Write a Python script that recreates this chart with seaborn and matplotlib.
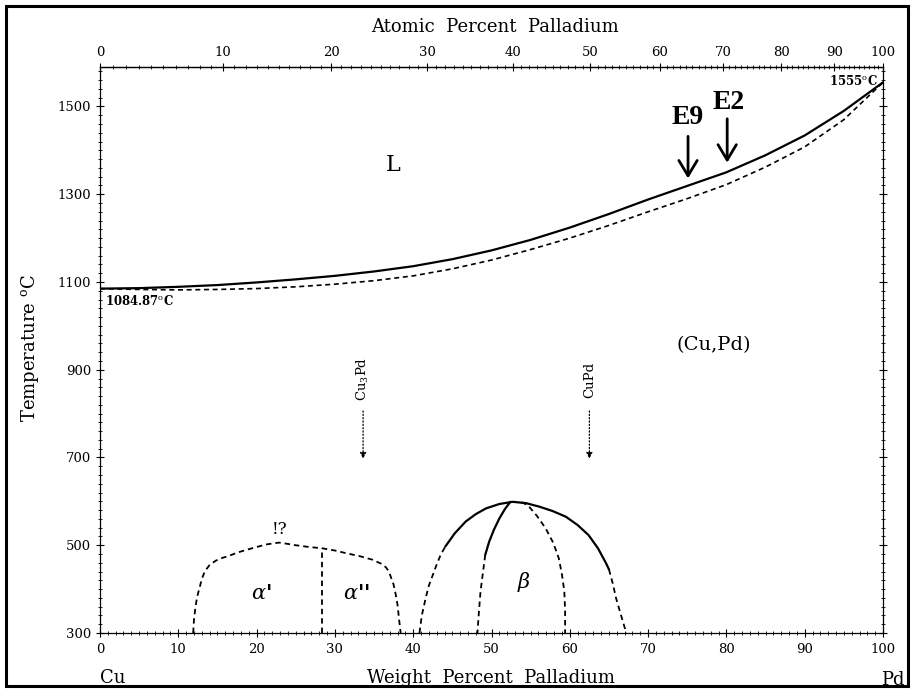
import numpy as np
import pandas as pd
import matplotlib
matplotlib.use("Agg")
import matplotlib.pyplot as plt
from matplotlib.patches import Rectangle
from matplotlib.ticker import MultipleLocator
import seaborn as sns

# ---- Cu-Pd phase diagram data (weight percent Pd, temperature in deg C) ----
liquidus_wt = [0, 5, 10, 15, 20, 25, 30, 35, 40, 45, 50, 55, 60, 65, 70, 75, 80, 85, 90, 95, 100]
liquidus_T = [1084.87, 1086, 1089, 1093, 1099, 1106, 1114, 1124, 1136, 1152, 1172, 1196,
              1224, 1255, 1288, 1319, 1350, 1389, 1434, 1490, 1555]

solidus_wt = [0, 5, 10, 15, 20, 25, 30, 35, 40, 45, 50, 55, 60, 65, 70, 75, 80, 85, 90, 95, 100]
solidus_T = [1084.87, 1083, 1082, 1083, 1085, 1089, 1095, 1103, 1114, 1130, 1150, 1174,
             1200, 1229, 1260, 1290, 1322, 1362, 1408, 1470, 1555]

alpha_dome_wt = [11.9, 12.0, 12.2, 12.4, 12.7, 13.0, 13.4, 14.0, 14.8, 15.6, 16.5, 17.5,
                 18.6, 20.0, 21.3, 22.4, 22.9, 24.0, 25.0, 26.7, 28.4, 30.0, 31.4, 33.2,
                 34.8, 35.9, 36.5, 36.9, 37.2, 37.5, 37.8, 38.0, 38.2, 38.4]
alpha_dome_T = [300, 330, 360, 382, 402, 423, 441, 455, 465, 471, 476, 483,
                489, 496, 502, 505, 506, 503, 500, 496, 493, 488, 482, 475,
                467, 458, 450, 440, 425, 410, 385, 364, 330, 300]

alpha_split_wt = [28.4, 28.4]
alpha_split_T = [300, 493]

beta_left_dash_wt = [40.8, 41.1, 41.6, 42.0, 42.5, 43.0, 43.5, 44.1]
beta_left_dash_T = [300, 340, 380, 408, 432, 456, 478, 497]
beta_outer_wt = [44.1, 45.3, 46.7, 48.0, 49.3, 51.0, 52.7, 54.4, 56.1, 57.8, 59.5, 61.0,
                 62.4, 63.6, 64.6, 65.0]
beta_outer_T = [497, 527, 554, 571, 584, 594, 599, 596, 588, 578, 565, 546,
                523, 493, 460, 445]
beta_right_dash_wt = [65.0, 65.5, 65.9, 66.5, 67.1, 67.2]
beta_right_dash_T = [445, 412, 380, 343, 307, 300]

beta_inner_solid_wt = [52.4, 51.7, 51.0, 50.3, 49.7, 49.2]
beta_inner_solid_T = [599, 582, 561, 535, 508, 478]
beta_inner_dash_wt = [49.2, 48.9, 48.6, 48.4, 48.2]
beta_inner_dash_T = [478, 437, 395, 350, 300]

beta_inner_right_wt = [53.8, 54.6, 55.8, 56.9, 57.9, 58.6, 59.0, 59.3, 59.4, 59.4]
beta_inner_right_T = [598, 592, 567, 539, 505, 470, 433, 395, 350, 300]

wt_ticks = list(range(0, 101, 10))
at_ticks = list(range(0, 101, 10))
T_ticks = list(range(300, 1501, 200))

M_CU, M_PD = 63.546, 106.42


def wt_to_at(w):
    w = np.clip(np.asarray(w, dtype=float), 0, 100)
    n_pd = w / M_PD
    n_cu = (100 - w) / M_CU
    return 100 * n_pd / (n_pd + n_cu)


def at_to_wt(a):
    a = np.clip(np.asarray(a, dtype=float), 0, 100)
    m_pd = a * M_PD
    m_cu = (100 - a) * M_CU
    return 100 * m_pd / (m_pd + m_cu)


sns.set_theme(style="white")
plt.rcParams["font.family"] = ["DejaVu Serif"]
plt.rcParams["mathtext.fontset"] = "dejavuserif"
plt.rcParams["text.color"] = "black"
plt.rcParams["axes.labelcolor"] = "black"
plt.rcParams["xtick.color"] = "black"
plt.rcParams["ytick.color"] = "black"

fig = plt.figure(figsize=(9.14, 6.90), dpi=100)
ax = fig.add_axes([100 / 914, 1 - 633 / 690, 783 / 914, (633 - 67) / 690])
ax.set_xlim(0, 100)
ax.set_ylim(300, 1590)


def draw(xs, ys, dashed=False, lw=1.4):
    df = pd.DataFrame({"wt": xs, "T": ys})
    kw = dict(color="black", linewidth=lw, sort=False, estimator=None, ax=ax)
    if dashed:
        kw["linestyle"] = (0, (3, 2.2))
    sns.lineplot(data=df, x="wt", y="T", **kw)


draw(liquidus_wt, liquidus_T, lw=1.6)
draw(solidus_wt, solidus_T, dashed=True, lw=1.2)
draw(alpha_dome_wt, alpha_dome_T, dashed=True, lw=1.3)
draw(alpha_split_wt, alpha_split_T, dashed=True, lw=1.3)
draw(beta_left_dash_wt, beta_left_dash_T, dashed=True, lw=1.3)
draw(beta_outer_wt, beta_outer_T, lw=1.6)
draw(beta_right_dash_wt, beta_right_dash_T, dashed=True, lw=1.3)
draw(beta_inner_solid_wt, beta_inner_solid_T, lw=1.6)
draw(beta_inner_dash_wt, beta_inner_dash_T, dashed=True, lw=1.3)
draw(beta_inner_right_wt, beta_inner_right_T, dashed=True, lw=1.3)

# ---- axes styling ----
for s in ax.spines.values():
    s.set_linewidth(0.9)
    s.set_color("black")
ax.set_xticks(wt_ticks)
ax.set_yticks(T_ticks)
ax.xaxis.set_minor_locator(MultipleLocator(1))
ax.yaxis.set_minor_locator(MultipleLocator(20))
ax.tick_params(axis="both", which="major", direction="inout", length=6, width=0.8,
               labelsize=9.5, colors="black")
ax.tick_params(axis="both", which="minor", direction="inout", length=3, width=0.6,
               colors="black")
ax.tick_params(axis="y", which="both", right=True, left=True)
ax.tick_params(axis="x", which="both", bottom=True, top=False, pad=4)
ax.set_xlabel("")
ax.set_ylabel("")

top = ax.secondary_xaxis("top", functions=(wt_to_at, at_to_wt))
top.set_xticks(at_ticks)
top.xaxis.set_minor_locator(MultipleLocator(1))
top.tick_params(which="major", direction="inout", length=6, width=0.8, labelsize=9.5, pad=3,
                colors="black")
top.tick_params(which="minor", direction="inout", length=3, width=0.6, colors="black")
top.spines["top"].set_linewidth(0.9)

fig.text(495 / 914, 1 - 27 / 690, "Atomic  Percent  Palladium", ha="center", va="center",
         fontsize=13)
fig.text(491 / 914, 1 - 678 / 690, "Weight  Percent  Palladium", ha="center", va="center",
         fontsize=13)
fig.text(113 / 914, 1 - 678 / 690, "Cu", ha="center", va="center", fontsize=13)
fig.text(893 / 914, 1 - 680 / 690, "Pd", ha="center", va="center", fontsize=13)
fig.text(30 / 914, 1 - 348 / 690, r"Temperature $^{\mathrm{o}}$C", ha="center", va="center",
         rotation=90, fontsize=13)

# ---- annotations ----
ax.text(0.6, 1056, r"1084.87$^{\mathrm{o}}$C", ha="left", va="center", fontsize=8.5,
        fontweight="bold")
ax.text(99.4, 1558, r"1555$^{\mathrm{o}}$C", ha="right", va="center", fontsize=8.5,
        fontweight="bold")
ax.text(37.4, 1367, "L", ha="center", va="center", fontsize=16)
ax.text(78.4, 956, "(Cu,Pd)", ha="center", va="center", fontsize=14)
ax.text(20.6, 391, r"$\alpha$'", ha="center", va="center", fontsize=15, fontweight="bold")
ax.text(32.8, 391, r"$\alpha$''", ha="center", va="center", fontsize=15, fontweight="bold")
ax.text(54.1, 417, r"$\beta$", ha="center", va="center", fontsize=15, fontweight="bold")
ax.text(22.9, 537, "!?", ha="center", va="center", fontsize=12)

ax.text(33.6, 879, r"Cu$_3$Pd", ha="center", va="center", rotation=90, fontsize=9.5)
ax.text(62.5, 877, "CuPd", ha="center", va="center", rotation=90, fontsize=9.5)
for xa in (33.6, 62.5):
    ax.annotate("", xy=(xa, 697), xytext=(xa, 806),
                arrowprops=dict(arrowstyle="-|>", color="black", lw=0.9, linestyle=":",
                                mutation_scale=9, shrinkA=0, shrinkB=0))

ax.text(75.0, 1476, "E9", ha="center", va="center", fontsize=20, fontweight="bold",
        family="Liberation Serif")
ax.text(80.3, 1510, "E2", ha="center", va="center", fontsize=20, fontweight="bold",
        family="Liberation Serif")
ax.annotate("", xy=(75.1, 1336), xytext=(75.1, 1432),
            arrowprops=dict(arrowstyle="->,head_length=0.5,head_width=0.3", color="black",
                            lw=2.0, mutation_scale=22, shrinkA=0, shrinkB=0))
ax.annotate("", xy=(80.1, 1372), xytext=(80.1, 1472),
            arrowprops=dict(arrowstyle="->,head_length=0.5,head_width=0.3", color="black",
                            lw=2.0, mutation_scale=22, shrinkA=0, shrinkB=0))

# outer frame
fig.add_artist(Rectangle((6 / 914, 4 / 690), 902 / 914, 680 / 690,
                         transform=fig.transFigure, fill=False, lw=2.2, edgecolor="black"))

fig.savefig("out.png", dpi=100, facecolor="white")
